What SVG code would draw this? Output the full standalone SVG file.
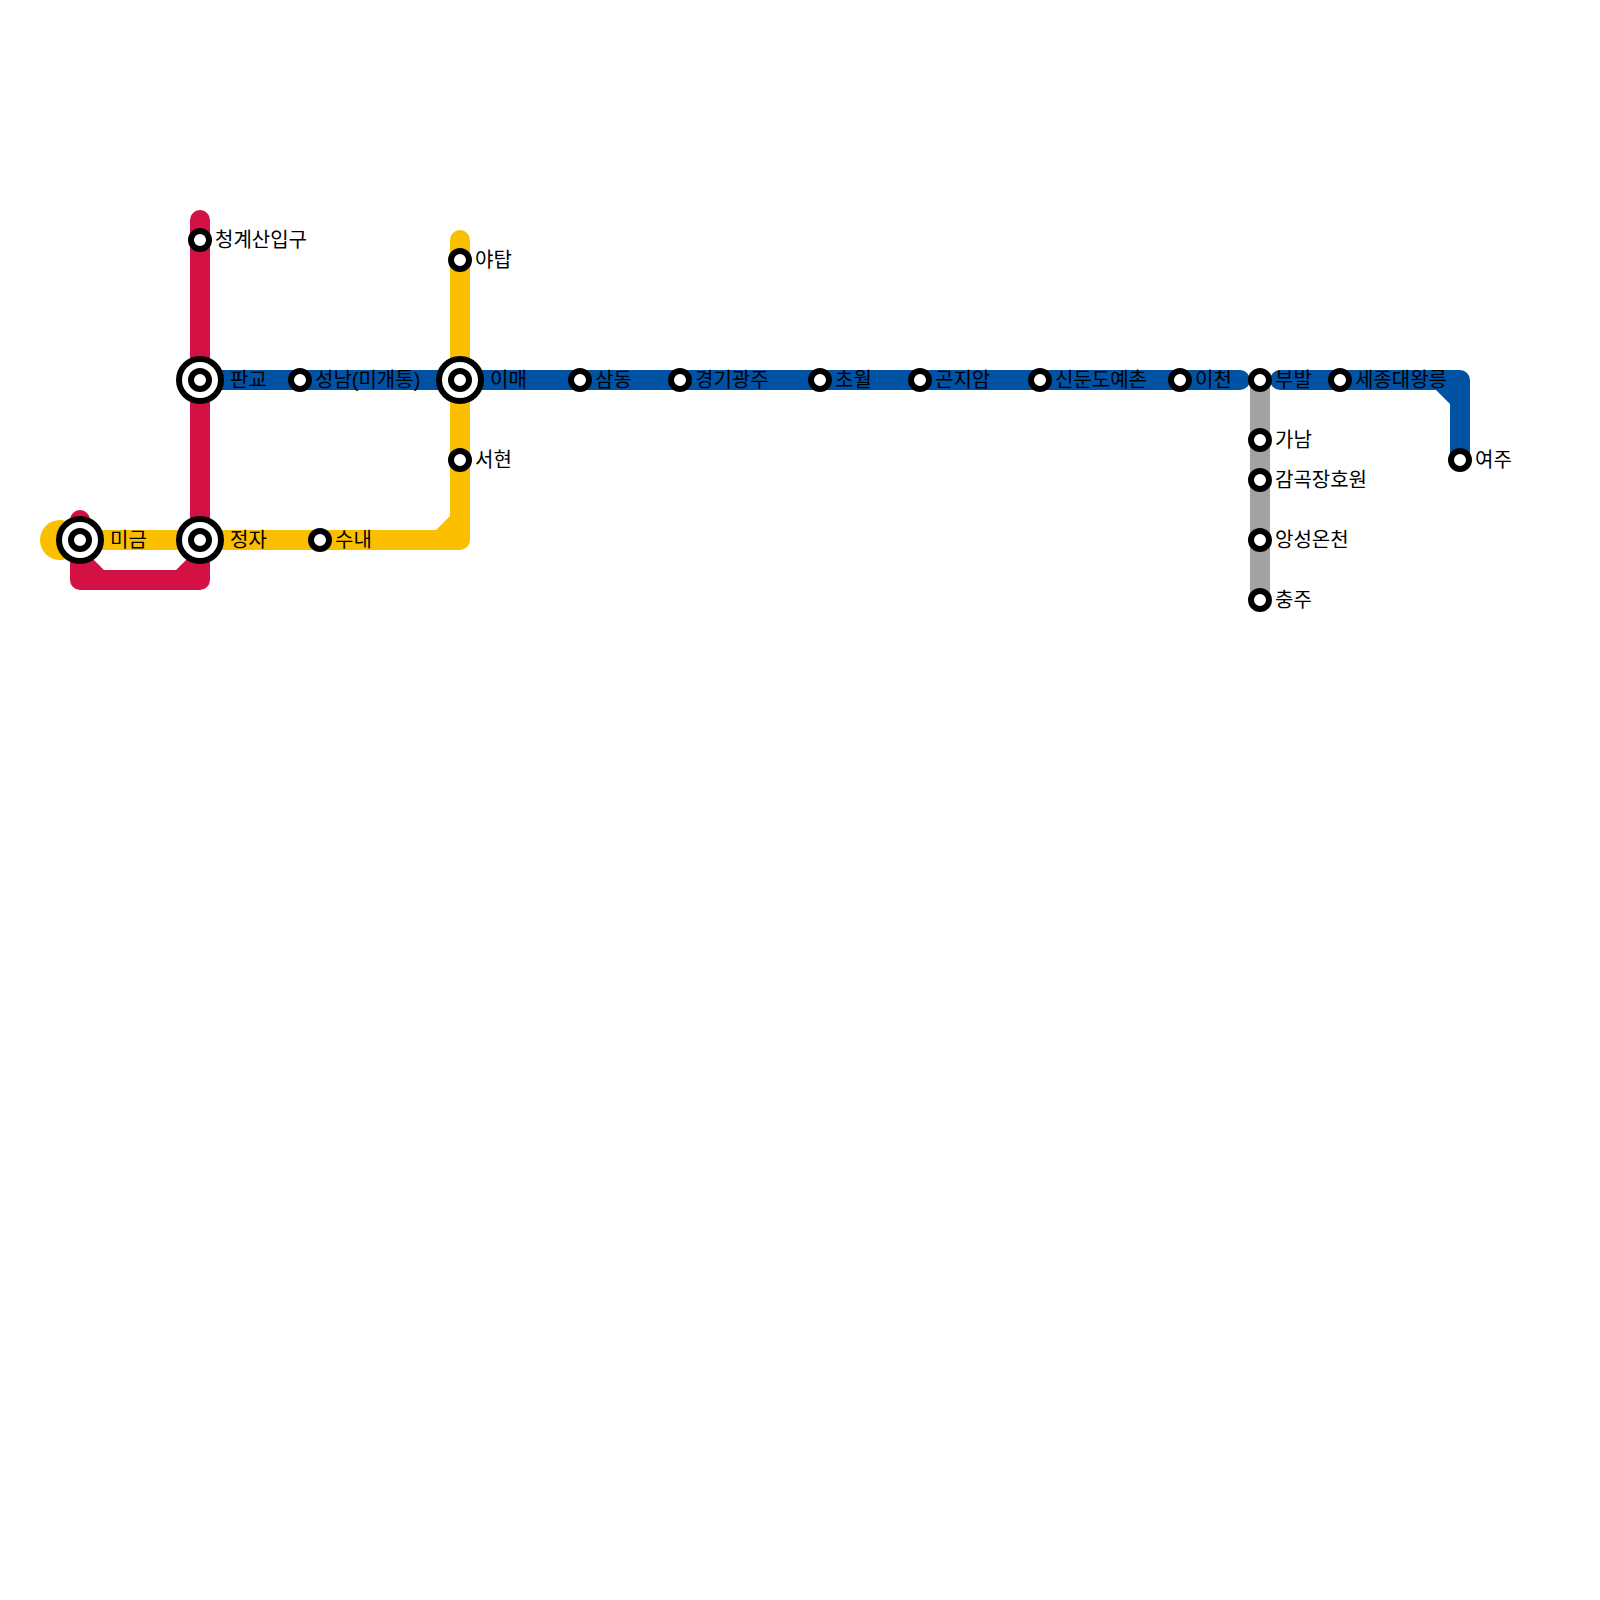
<svg xmlns="http://www.w3.org/2000/svg" width="1600" height="1600" viewBox="0 0 1600 1600">
<style>
.l{fill:none;stroke-width:20;stroke-linecap:round;stroke-linejoin:round}
.r{stroke:#d31145}.y{stroke:#fbbf00}.b{stroke:#0052a4}.g{stroke:#a2a2a2}
.s{fill:#fff;stroke:#000;stroke-width:6}
.o{fill:#fff;stroke:#000;stroke-width:6}
text{font-family:"Liberation Sans","Noto Sans CJK KR",sans-serif;font-size:20px;fill:#000;dominant-baseline:central}
</style>
<rect width="1600" height="1600" fill="#fff"/>
<g id="connectors">
<path class="l g" d="M1260 380V600"/>
<path class="l b" d="M200 380H1240"/>
<path class="l b" d="M1280 380H1460V460"/>
<path d="M1436 390H1450V404Z" fill="#0052a4"/>
<path class="l r" d="M200 220V580H80V520"/>
<path d="M90 556L104 570H90Z M190 556L176 570H190Z" fill="#d31145"/>
<path class="l y" d="M460 240V540H60"/>
<path d="M436 530L450 516V530Z" fill="#fbbf00"/>
<circle cx="60" cy="540" r="20" fill="#fbbf00"/>
</g>
<g id="st-cheonggye"><circle class="s" cx="200" cy="240" r="9"/><text x="215" y="240">청계산입구</text></g>
<g id="st-yatap"><circle class="s" cx="460" cy="260" r="9"/><text x="475" y="260">야탑</text></g>
<g id="st-pangyo"><circle class="o" cx="200" cy="380" r="21"/><circle class="s" cx="200" cy="380" r="9"/><text x="230" y="380">판교</text></g>
<g id="st-seongnam"><circle class="s" cx="300" cy="380" r="9"/><text x="315" y="380">성남(미개통)</text></g>
<g id="st-imae"><circle class="o" cx="460" cy="380" r="21"/><circle class="s" cx="460" cy="380" r="9"/><text x="490" y="380">이매</text></g>
<g id="st-samdong"><circle class="s" cx="580" cy="380" r="9"/><text x="595" y="380">삼동</text></g>
<g id="st-gyeonggigwangju"><circle class="s" cx="680" cy="380" r="9"/><text x="695" y="380">경기광주</text></g>
<g id="st-chowol"><circle class="s" cx="820" cy="380" r="9"/><text x="835" y="380">초월</text></g>
<g id="st-gonjiam"><circle class="s" cx="920" cy="380" r="9"/><text x="935" y="380">곤지암</text></g>
<g id="st-sindundoyechon"><circle class="s" cx="1040" cy="380" r="9"/><text x="1055" y="380">신둔도예촌</text></g>
<g id="st-icheon"><circle class="s" cx="1180" cy="380" r="9"/><text x="1195" y="380">이천</text></g>
<g id="st-bubal"><circle class="s" cx="1260" cy="380" r="9"/><text x="1275" y="380">부발</text></g>
<g id="st-sejong"><circle class="s" cx="1340" cy="380" r="9"/><text x="1355" y="380">세종대왕릉</text></g>
<g id="st-yeoju"><circle class="s" cx="1460" cy="460" r="9"/><text x="1475" y="460">여주</text></g>
<g id="st-ganam"><circle class="s" cx="1260" cy="440" r="9"/><text x="1275" y="440">가남</text></g>
<g id="st-gamgok"><circle class="s" cx="1260" cy="480" r="9"/><text x="1275" y="480">감곡장호원</text></g>
<g id="st-angseong"><circle class="s" cx="1260" cy="540" r="9"/><text x="1275" y="540">앙성온천</text></g>
<g id="st-chungju"><circle class="s" cx="1260" cy="600" r="9"/><text x="1275" y="600">충주</text></g>
<g id="st-seohyeon"><circle class="s" cx="460" cy="460" r="9"/><text x="475" y="460">서현</text></g>
<g id="st-migeum"><circle class="o" cx="80" cy="540" r="21"/><circle class="s" cx="80" cy="540" r="9"/><text x="110" y="540">미금</text></g>
<g id="st-jeongja"><circle class="o" cx="200" cy="540" r="21"/><circle class="s" cx="200" cy="540" r="9"/><text x="230" y="540">정자</text></g>
<g id="st-sunae"><circle class="s" cx="320" cy="540" r="9"/><text x="335" y="540">수내</text></g>
</svg>
